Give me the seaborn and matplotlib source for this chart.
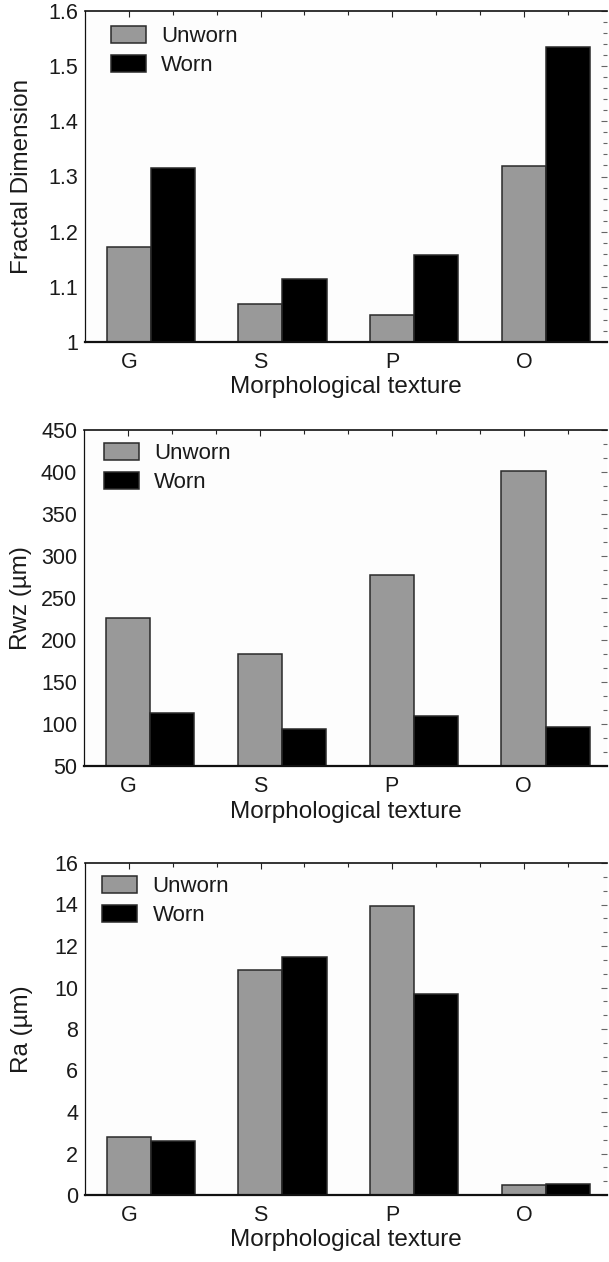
import matplotlib

matplotlib.use("Agg")
import matplotlib.pyplot as plt
import numpy as np
import pandas as pd
import seaborn as sns
from matplotlib.ticker import AutoMinorLocator, FuncFormatter, MultipleLocator

# data
textures = ["G", "S", "P", "O"]
conditions = ["Unworn", "Worn"]

fractal_unworn = [1.172, 1.068, 1.049, 1.319]
fractal_worn = [1.316, 1.114, 1.157, 1.535]

rwz_unworn = [226.6, 183.0, 277.0, 401.0]
rwz_worn = [113.0, 94.0, 109.0, 96.0]

ra_unworn = [2.80, 10.83, 13.92, 0.47]
ra_worn = [2.61, 11.49, 9.68, 0.53]

colors = {"Unworn": "#999999", "Worn": "#000000"}


def long_frame(unworn, worn):
    return pd.DataFrame(
        {
            "texture": textures * 2,
            "condition": ["Unworn"] * len(textures) + ["Worn"] * len(textures),
            "value": list(unworn) + list(worn),
        }
    )


panels = [
    {
        "df": long_frame(fractal_unworn, fractal_worn),
        "ylabel": "Fractal Dimension",
        "ylim": (1.0, 1.6),
        "step": 0.1,
        "minor": 5,
        "rect": [85 / 609, 1 - 342 / 1262, 522 / 609, 331 / 1262],
        "leg": (0.050, 0.955),
    },
    {
        "df": long_frame(rwz_unworn, rwz_worn),
        "ylabel": "Rwz (\u00b5m)",
        "ylim": (50, 450),
        "step": 50,
        "minor": 3,
        "rect": [84 / 609, 1 - 766 / 1262, 523 / 609, 336 / 1262],
        "leg": (0.038, 0.962),
    },
    {
        "df": long_frame(ra_unworn, ra_worn),
        "ylabel": "Ra (\u00b5m)",
        "ylim": (0, 16),
        "step": 2,
        "minor": 3,
        "rect": [85 / 609, 1 - 1195 / 1262, 522 / 609, 332 / 1262],
        "leg": (0.033, 0.962),
    },
]

sns.set_theme(style="white")
plt.rcParams["font.family"] = ["Liberation Sans", "DejaVu Sans"]

fig = plt.figure(figsize=(6.09, 12.62), dpi=100)

for p in panels:
    ax = fig.add_axes(p["rect"])
    sns.barplot(
        data=p["df"],
        x="texture",
        y="value",
        hue="condition",
        order=textures,
        hue_order=conditions,
        palette=colors,
        width=0.67,
        gap=0,
        saturation=1,
        edgecolor="#2a2a2a",
        linewidth=1.1,
        errorbar=None,
        ax=ax,
    )
    ax.set_facecolor("#fdfdfd")
    ax.set_xlim(-0.5, 3.465)
    ax.set_ylim(*p["ylim"])

    # category labels sit a little left of the bar pairs
    ax.set_xticks(np.arange(len(textures)) - 1 / 6)
    ax.set_xticklabels(textures)
    ax.set_xticks(np.arange(-1 / 6, 3.47, 1 / 3), minor=True)

    ax.yaxis.set_major_locator(MultipleLocator(p["step"]))
    ax.yaxis.set_minor_locator(AutoMinorLocator(p["minor"]))
    ax.yaxis.set_major_formatter(FuncFormatter(lambda v, pos: f"{v:g}"))

    ax.tick_params(axis="both", which="both", direction="in", colors="#222222",
                   top=True, right=True, labelsize=15.5, width=0.8)
    ax.tick_params(axis="both", which="major", length=4)
    ax.tick_params(axis="both", which="minor", length=3)
    ax.tick_params(axis="x", which="major", pad=7)
    ax.tick_params(axis="y", which="major", pad=5)
    ax.tick_params(axis="y", which="both", right=True, colors="#666666")
    ax.tick_params(axis="y", which="both", labelcolor="#1a1a1a")
    ax.tick_params(axis="x", which="both", labelcolor="#1a1a1a")

    for side in ["left", "bottom", "top"]:
        ax.spines[side].set_visible(True)
        ax.spines[side].set_color("#111111")
    ax.spines["left"].set_linewidth(0.9)
    ax.spines["top"].set_linewidth(1.2)
    ax.spines["bottom"].set_linewidth(1.6)
    ax.spines["right"].set_visible(False)

    ax.set_xlabel("Morphological texture", fontsize=17.5, color="#1a1a1a")
    ax.set_ylabel(p["ylabel"], fontsize=17.5, color="#1a1a1a")
    ax.xaxis.set_label_coords(0.5, -0.103)
    ax.yaxis.set_label_coords(-0.1, 0.5)

    sns.move_legend(
        ax,
        "upper left",
        bbox_to_anchor=p["leg"],
        frameon=False,
        title=None,
        fontsize=16,
        borderpad=0,
        borderaxespad=0,
        handlelength=1.58,
        handleheight=0.82,
        handletextpad=0.68,
        labelspacing=0.35,
    )
    for txt in ax.get_legend().get_texts():
        txt.set_color("#1a1a1a")

fig.savefig("out.png", dpi=100, facecolor="white")
